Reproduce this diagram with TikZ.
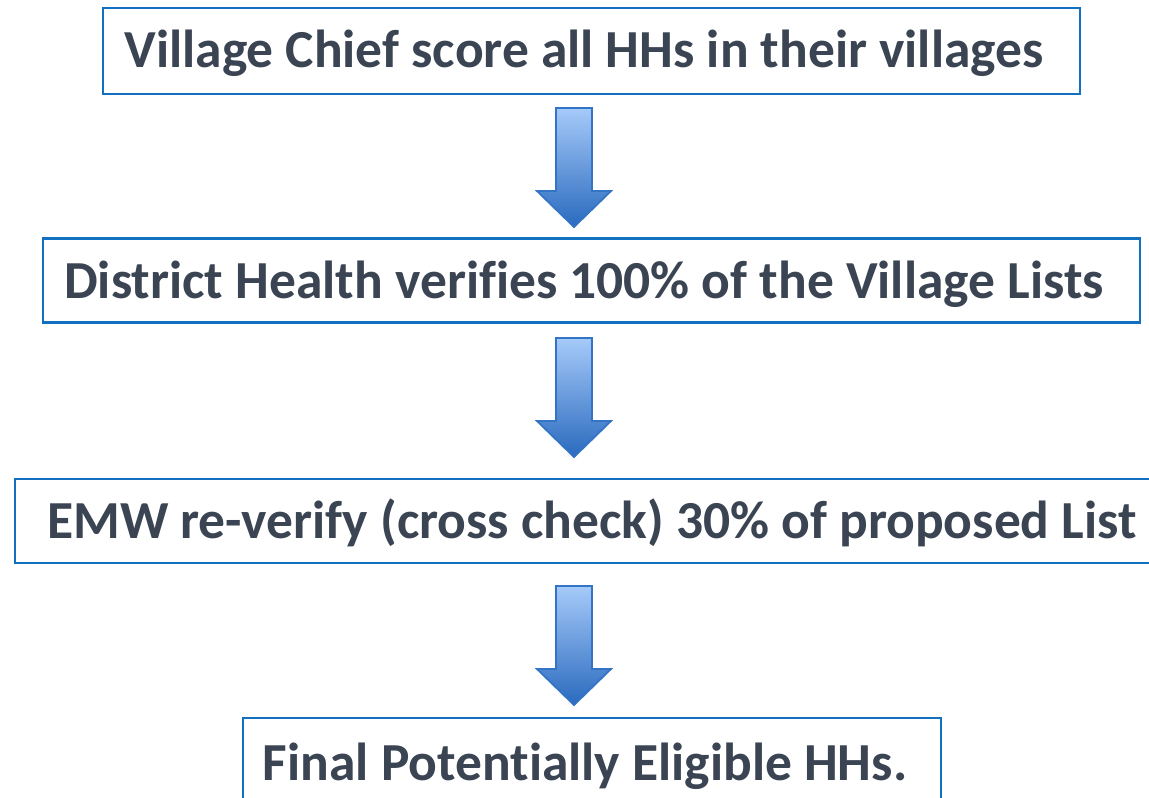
\documentclass[tikz,border=0pt]{standalone}
\usepackage{fontspec}
\setmainfont{Carlito}[Ligatures=NoCommon]
\usepackage{tikz}
\usetikzlibrary{positioning}

\definecolor{boxblue}{RGB}{18,112,192}
\definecolor{textgrey}{RGB}{58,68,82}
\definecolor{arrowtop}{RGB}{166,202,250}
\definecolor{arrowbot}{RGB}{42,106,190}
\definecolor{arrowline}{RGB}{52,116,196}

\begin{document}
\begin{tikzpicture}[x=1pt,y=-1pt,
    stepbox/.style={draw=boxblue,line width=2.8pt,inner sep=0pt},
    steptext/.style={text=textgrey,font=\fontsize{53.5}{60}\selectfont\bfseries,inner sep=0pt,anchor=base},
    downarrow/.pic={
        \draw[arrowline,line width=1.8pt,top color=arrowtop,bottom color=arrowbot]
            (-18,0) -- (18,0) -- (18,83) -- (37,83) -- (0,119) -- (-37,83) -- (-18,83) -- cycle;
    }]
    \useasboundingbox (0,0) rectangle (1149,798);
    \begin{scope}
    \clip (0,0) rectangle (1149,798);
    % the four steps
    \node[stepbox,minimum width=977pt,minimum height=86pt] (chief) at (591.5,51) {};
    \node[stepbox,minimum width=1097pt,minimum height=84pt] (district) at (591.5,280.5) {};
    \node[stepbox,minimum width=1160pt,minimum height=84pt] (emw) at (595,521) {};
    \node[stepbox,minimum width=698pt,minimum height=86pt] (final) at (592,761) {};
    \end{scope}

    \node[steptext] (chieftxt) at (584,67) {Village Chief score all HHs in their villages};
    \node[steptext] (districttxt) at (584,298) {District Health verifies 100\% of the Village Lists};
    \node[steptext] (emwtxt) at (592,538) {EMW re-verify (cross check) 30\% of proposed List};
    \node[steptext] (finaltxt) at (585,780) {Final Potentially Eligible HHs.};

    % arrows between the steps
    \pic at (574,108) {downarrow};
    \pic at (574,338) {downarrow};
    \pic at (574,586) {downarrow};
\end{tikzpicture}
\end{document}
